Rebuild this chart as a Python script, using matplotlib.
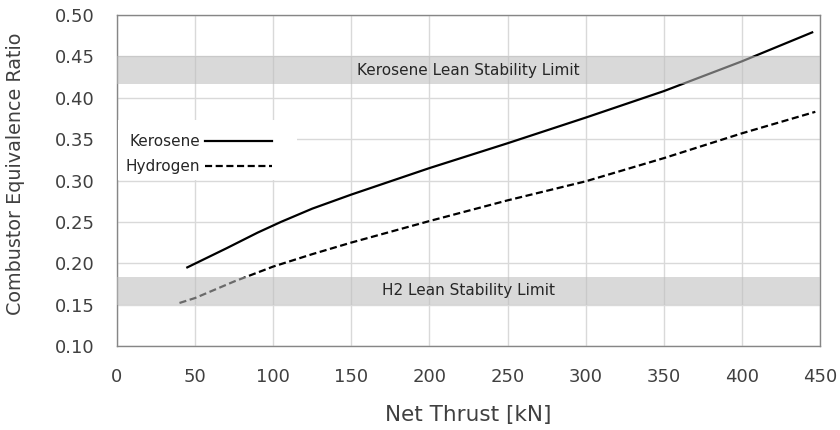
import numpy as np
import matplotlib

matplotlib.use('Agg')
import matplotlib.pyplot as plt
from matplotlib.patches import Rectangle

# Data
kero_thrust = [45, 70, 90, 105, 125, 150, 175, 200, 250, 300, 350, 400, 445]
kero_phi = [0.195, 0.218, 0.237, 0.250, 0.266, 0.283, 0.299, 0.315, 0.345, 0.376, 0.408, 0.444, 0.479]

h2_thrust = [40, 50, 75, 100, 125, 150, 200, 250, 300, 350, 400, 447]
h2_phi = [0.152, 0.158, 0.178, 0.196, 0.211, 0.225, 0.251, 0.276, 0.299, 0.327, 0.357, 0.383]

kero_limit = (0.417, 0.450)
h2_limit = (0.150, 0.183)

plt.rcParams['font.family'] = ['DejaVu Sans']

fig = plt.figure(figsize=(8.4, 4.3), dpi=100)
ax = fig.add_axes([117 / 840, 1 - 346 / 430, 703 / 840, 331 / 430])

ax.plot(kero_thrust, kero_phi, color='black', lw=1.6, label='Kerosene', zorder=2)
ax.plot(h2_thrust, h2_phi, color='black', lw=1.6, linestyle=(0, (3.2, 1.6)),
        label='Hydrogen', zorder=2)

# stability bands drawn over the curves (semi-transparent)
ax.axhspan(*kero_limit, color='#bdbdbd', alpha=0.565, lw=0, zorder=3)
ax.axhspan(*h2_limit, color='#bdbdbd', alpha=0.565, lw=0, zorder=3)
ax.text(225, np.mean(kero_limit), 'Kerosene Lean Stability Limit', ha='center', va='center',
        fontsize=11, color='#262626', zorder=4)
ax.text(225, np.mean(h2_limit), 'H2 Lean Stability Limit', ha='center', va='center',
        fontsize=11, color='#262626', zorder=4)

ax.set_xlim(0, 450)
ax.set_ylim(0.10, 0.50)
ax.set_xticks(np.arange(0, 451, 50))
ax.set_yticks(np.arange(0.10, 0.501, 0.05))
ax.yaxis.set_major_formatter(matplotlib.ticker.FormatStrFormatter('%.2f'))
ax.tick_params(length=0, pad=16, labelsize=13, labelcolor='#404040')
ax.grid(color='#d9d9d9', lw=1)
ax.set_axisbelow(True)
for sp in ax.spines.values():
    sp.set_color('#868686')
    sp.set_linewidth(1)

ax.set_xlabel('Net Thrust [kN]', fontsize=15.5, color='#404040')
ax.xaxis.set_label_coords(0.5, -0.208)
ax.xaxis.label.set_va('center')
ax.set_ylabel('Combustor Equivalence Ratio', fontsize=13.8, color='#404040')
ax.yaxis.set_label_coords(-0.145, 0.521)
ax.yaxis.label.set_va('center')

# white box behind the legend (covers the grid like the original)
ax.add_patch(Rectangle((0.002, 0.5015), 0.254, 0.1815, transform=ax.transAxes,
                       facecolor='white', edgecolor='none', zorder=4))
leg = ax.legend(loc='center left', bbox_to_anchor=(0.004, 0.58), markerfirst=False,
                frameon=False, fontsize=11, handlelength=4.4, handletextpad=0.3,
                borderaxespad=0, borderpad=0.4, labelspacing=0.65)
for t in leg.get_texts():
    t.set_color('#262626')
leg.set_zorder(5)

fig.savefig('out.png', dpi=100)
